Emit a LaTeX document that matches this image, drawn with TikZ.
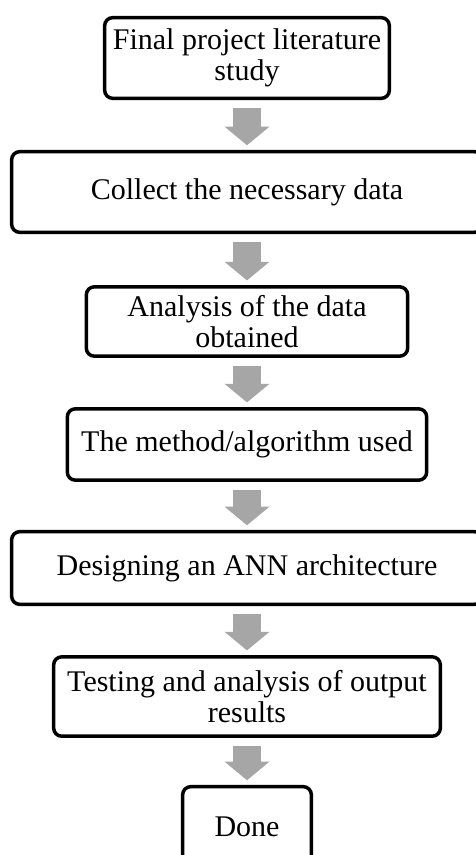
\documentclass[tikz,border=0pt]{standalone}
\usepackage{fontspec}
\setmainfont{Liberation Serif}
\usetikzlibrary{arrows.meta}

\definecolor{arrowgray}{RGB}{166,166,166}

\tikzset{every picture/.style={line width=0.75pt}}
\tikzset{
	stepbox/.style={draw, line width=2.6pt, rounded corners=6pt, align=center, inner sep=2pt, font=\fontsize{22.5}{23}\selectfont},
	flowarrow/.style={draw=arrowgray, line width=21pt, -{Triangle[width=33pt,length=14pt]}, shorten <=6pt, shorten >=3.5pt}
}

\begin{document}
\begin{tikzpicture}[x=0.75pt,y=0.75pt,yscale=-1,xscale=1]
		%set diagram frame: 475 x 855
		\useasboundingbox (0,0) rectangle (475,855);
		
		%boxes
		\node [stepbox, minimum width=213.5pt, minimum height=60.5pt] (b1) at (247,58) {Final project literature\\study};
		\node [stepbox, minimum width=353pt, minimum height=60.5pt] (b2) at (247,192) {Collect the necessary data};
		\node [stepbox, minimum width=241pt, minimum height=52pt] (b3) at (247,321.5) {Analysis of the data\\obtained};
		\node [stepbox, minimum width=269.5pt, minimum height=53.5pt] (b4) at (247,444.5) {The method/algorithm used};
		\node [stepbox, minimum width=353pt, minimum height=54.5pt] (b5) at (247,568) {Designing an ANN architecture};
		\node [stepbox, minimum width=290pt, minimum height=59.5pt] (b6) at (247,696.5) {Testing and analysis of output\\results};
		\node [stepbox, minimum width=96.5pt, minimum height=60.5pt] (b7) at (247,827) {Done};
		
		%arrows
		\draw [flowarrow] (b1.south) -- (b2.north);
		\draw [flowarrow] (b2.south) -- (b3.north);
		\draw [flowarrow] (b3.south) -- (b4.north);
		\draw [flowarrow] (b4.south) -- (b5.north);
		\draw [flowarrow] (b5.south) -- (b6.north);
		\draw [flowarrow] (b6.south) -- (b7.north);
		
\end{tikzpicture}
\end{document}
